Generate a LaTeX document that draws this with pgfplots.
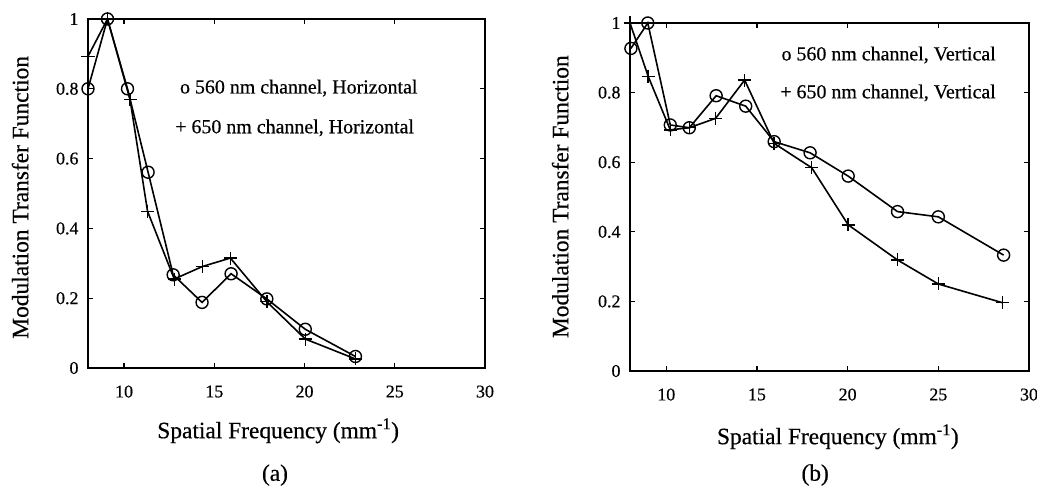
\documentclass[border=0pt]{standalone}
\usepackage{fontspec}
\setmainfont{Liberation Serif}[FakeBold=0.5]
\usepackage{pgfplots}
\usepackage{pgfplotstable}
\pgfplotsset{compat=1.18}

\pgfplotstableread{
x y
8.0 0.80
9.08 1.00
10.19 0.80
11.33 0.561
12.72 0.267
14.32 0.188
15.93 0.270
17.91 0.198
20.04 0.111
22.82 0.033
}\aA
\pgfplotstableread{
x y
8.0 0.893
9.08 1.00
10.33 0.769
11.30 0.449
12.78 0.255
14.35 0.291
15.89 0.315
17.91 0.190
20.04 0.083
22.82 0.026
}\aB
\pgfplotstableread{
x y
8.05 0.927
8.98 1.0
10.22 0.707
11.27 0.699
12.75 0.791
14.38 0.761
15.95 0.659
17.93 0.627
20.03 0.560
22.75 0.458
25.0 0.443
28.6 0.333
}\bA
\pgfplotstableread{
x y
8.0 1.0
9.0 0.847
10.22 0.693
11.27 0.699
12.72 0.726
14.32 0.836
15.95 0.654
18.02 0.584
20.03 0.420
22.75 0.319
25.0 0.250
28.55 0.196
}\bB

\pgfplotsset{
  mtf/.style={
    anchor=south west,
    scale only axis,
    xmin=8, xmax=30, ymin=0, ymax=1,
    xtick={10,15,20,25,30},
    ytick={0,0.2,0.4,0.6,0.8,1},
    tick align=inside,
    major tick length=5bp,
    axis line style={line width=1.6bp},
    every tick/.style={line width=1.2bp, black},
    /pgf/number format/assume math mode=true,
    tick label style={font=\fontsize{18}{20}\selectfont},
    xticklabel style={yshift=-14bp},
    yticklabel style={xshift=-6bp},
    clip=false,
  },
  circ/.style={black, line width=1.6bp, mark=o, mark size=6bp, mark options={line width=1.4bp}},
  plus/.style={black, line width=1.6bp, mark=+, mark size=6.5bp, mark options={line width=1.4bp}},
}

\begin{document}
\begin{tikzpicture}
\path[use as bounding box] (0,0) rectangle (1037bp,486bp);

\begin{axis}[mtf, at={(88bp,118bp)}, width=397bp, height=349bp]
\addplot[circ] table[x=x,y=y] {\aA};
\addplot[plus] table[x=x,y=y] {\aB};
\node[anchor=west, font=\fontsize{20}{22}\selectfont] at (rel axis cs:0.223,0.802) {o 560 nm channel, Horizontal};
\node[anchor=west, font=\fontsize{20}{22}\selectfont] at (rel axis cs:0.211,0.688) {+ 650 nm channel, Horizontal};
\node[font=\fontsize{23.5}{26}\selectfont] at (rel axis cs:0.479,-0.18) {Spatial Frequency (mm\textsuperscript{-1})};
\node[font=\fontsize{23.5}{26}\selectfont] at (rel axis cs:0.471,-0.307) {(a)};
\node[rotate=90, font=\fontsize{23.5}{26}\selectfont] at (rel axis cs:-0.171,0.489) {Modulation Transfer Function};
\end{axis}

\begin{axis}[mtf, at={(630bp,115bp)}, width=399bp, height=348bp]
\addplot[circ] table[x=x,y=y] {\bA};
\addplot[plus] table[x=x,y=y] {\bB};
\node[anchor=west, font=\fontsize{20}{22}\selectfont] at (rel axis cs:0.371,0.908) {o 560 nm channel, Vertical};
\node[anchor=west, font=\fontsize{20}{22}\selectfont] at (rel axis cs:0.368,0.799) {+ 650 nm channel, Vertical};
\node[font=\fontsize{23.5}{26}\selectfont] at (rel axis cs:0.521,-0.189) {Spatial Frequency (mm\textsuperscript{-1})};
\node[font=\fontsize{23.5}{26}\selectfont] at (rel axis cs:0.464,-0.299) {(b)};
\node[rotate=90, font=\fontsize{23.5}{26}\selectfont] at (rel axis cs:-0.175,0.501) {Modulation Transfer Function};
\end{axis}
\end{tikzpicture}
\end{document}
